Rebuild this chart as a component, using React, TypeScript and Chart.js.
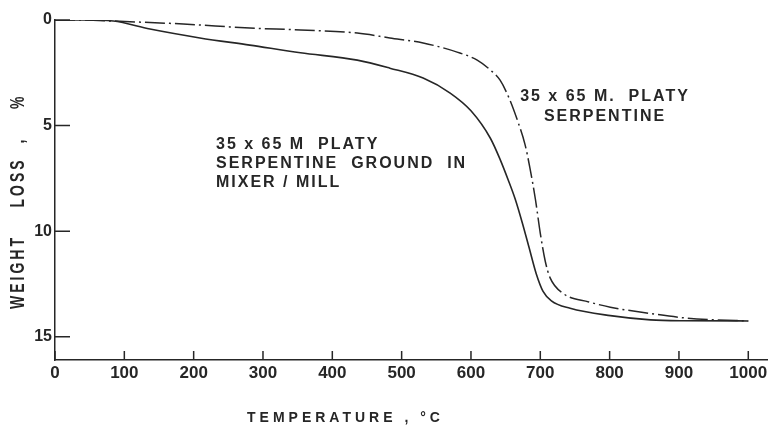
import { useEffect, useRef } from "react";
import { Chart, registerables } from "chart.js";

Chart.register(...registerables);

// ---- data ----
const temperatureTicks = [0, 100, 200, 300, 400, 500, 600, 700, 800, 900, 1000];
const weightLossTicks = [0, 5, 10, 15];

// 35 x 65 M platy serpentine ground in mixer/mill (solid line)
const groundTemp = [0, 40, 84, 137, 209, 281, 354, 436, 483, 531, 570, 600, 628, 642, 654, 664, 674, 684, 694, 704, 716, 743, 801, 859, 906, 1000];
const groundLoss = [0, 0, 0.05, 0.43, 0.85, 1.19, 1.55, 1.9, 2.28, 2.75, 3.46, 4.3, 5.6, 6.6, 7.6, 8.5, 9.6, 10.8, 12.0, 12.85, 13.3, 13.65, 14.0, 14.2, 14.24, 14.25];

// 35 x 65 M. platy serpentine (dash-dot line)
const platyTemp = [0, 40, 84, 185, 281, 354, 436, 483, 531, 580, 609, 628, 642, 655, 667, 678, 685, 693, 700, 707, 714, 733, 770, 801, 859, 906, 945, 1000];
const platyLoss = [0, 0, 0.05, 0.19, 0.38, 0.47, 0.62, 0.85, 1.09, 1.52, 1.9, 2.37, 2.85, 3.7, 4.75, 5.9, 7.0, 8.5, 10.1, 11.4, 12.2, 12.95, 13.35, 13.6, 13.9, 14.1, 14.19, 14.25];

const xTitle = "TEMPERATURE , \u00B0C";
const yTitle = "WEIGHT    LOSS  ,    %";
const groundLabel = ["35 x 65 M  PLATY", "SERPENTINE  GROUND  IN", "MIXER / MILL"];
const platyLabel = ["35 x 65 M.  PLATY", "SERPENTINE"];

const INK = "#262626";
const FONT = "'Liberation Sans', Arial, sans-serif";

const decorPlugin = {
  id: "decor",
  afterDraw(chart: any) {
    const ctx = chart.ctx as CanvasRenderingContext2D;
    const xs = chart.scales.x;
    const ys = chart.scales.y;
    ctx.save();
    // inward tick marks
    ctx.strokeStyle = INK;
    ctx.lineWidth = 1.5;
    ctx.beginPath();
    xs.ticks.forEach((t: any) => {
      const px = xs.getPixelForValue(t.value);
      ctx.moveTo(px, xs.top);
      ctx.lineTo(px, xs.top - 9);
    });
    ys.ticks.forEach((t: any) => {
      const py = ys.getPixelForValue(t.value);
      ctx.moveTo(ys.right, py);
      ctx.lineTo(ys.right + 15, py);
    });
    ctx.stroke();

    ctx.fillStyle = INK;
    ctx.textBaseline = "middle";
    (ctx as any).letterSpacing = "2px";
    ctx.font = `bold 16px ${FONT}`;
    ctx.textAlign = "left";
    groundLabel.forEach((line, i) => ctx.fillText(line, 216, 145 + i * 19));
    ctx.textAlign = "center";
    platyLabel.forEach((line, i) => ctx.fillText(line, 605, 97 + i * 20));

    // x axis title
    (ctx as any).letterSpacing = "4px";
    ctx.font = `bold 14px ${FONT}`;
    ctx.textAlign = "left";
    ctx.fillText(xTitle, 247, 418);

    // y axis title
    (ctx as any).letterSpacing = "3px";
    ctx.translate(19, 309);
    ctx.rotate(-Math.PI / 2);
    ctx.scale(1, 1.4);
    ctx.fillText(yTitle, 0, 0);
    ctx.restore();
  },
};

export default function App() {
  const ref = useRef<HTMLCanvasElement | null>(null);

  useEffect(() => {
    if (!ref.current) return;
    const chart = new Chart(ref.current, {
      type: "line",
      data: {
        datasets: [
          {
            label: "35 x 65 M platy serpentine ground in mixer/mill",
            data: groundTemp.map((t, i) => ({ x: t, y: groundLoss[i] })),
            borderColor: INK,
            borderWidth: 1.6,
            pointRadius: 0,
            cubicInterpolationMode: "monotone",
            fill: false,
          },
          {
            label: "35 x 65 M. platy serpentine",
            data: platyTemp.map((t, i) => ({ x: t, y: platyLoss[i] })),
            borderColor: INK,
            borderWidth: 1.5,
            borderDash: [20, 4, 2, 4],
            pointRadius: 0,
            cubicInterpolationMode: "monotone",
            fill: false,
          },
        ],
      },
      options: {
        responsive: false,
        animation: false,
        layout: { padding: { top: 20, right: 9, left: 0, bottom: 0 } },
        plugins: { legend: { display: false }, tooltip: { enabled: false } },
        scales: {
          x: {
            type: "linear",
            min: 0,
            max: 1027,
            afterBuildTicks: (s: any) => {
              s.ticks = temperatureTicks.map((v) => ({ value: v }));
            },
            afterFit: (s: any) => {
              s.height = 70;
            },
            grid: { drawOnChartArea: false, drawTicks: false },
            border: { display: true, color: INK, width: 1.5 },
            ticks: {
              autoSkip: false,
              maxRotation: 0,
              padding: 3,
              color: INK,
              font: { family: FONT, size: 17, weight: "bold" },
              callback: (v: any) => String(v),
            },
          },
          y: {
            type: "linear",
            reverse: true,
            min: 0,
            max: 16.1,
            afterBuildTicks: (s: any) => {
              s.ticks = weightLossTicks.map((v) => ({ value: v }));
            },
            afterFit: (s: any) => {
              s.width = 55;
            },
            grid: { drawOnChartArea: false, drawTicks: false },
            border: { display: true, color: INK, width: 1.5 },
            ticks: {
              padding: 3,
              color: INK,
              font: { family: FONT, size: 16, weight: "bold" },
              callback: (v: any) => String(v),
            },
          },
        },
      },
      plugins: [decorPlugin],
    });
    return () => chart.destroy();
  }, []);

  return (
    <div style={{ position: "fixed", left: 0, top: 0, width: 776, height: 430, background: "#ffffff" }}>
      <canvas ref={ref} width={776} height={430} />
    </div>
  );
}
